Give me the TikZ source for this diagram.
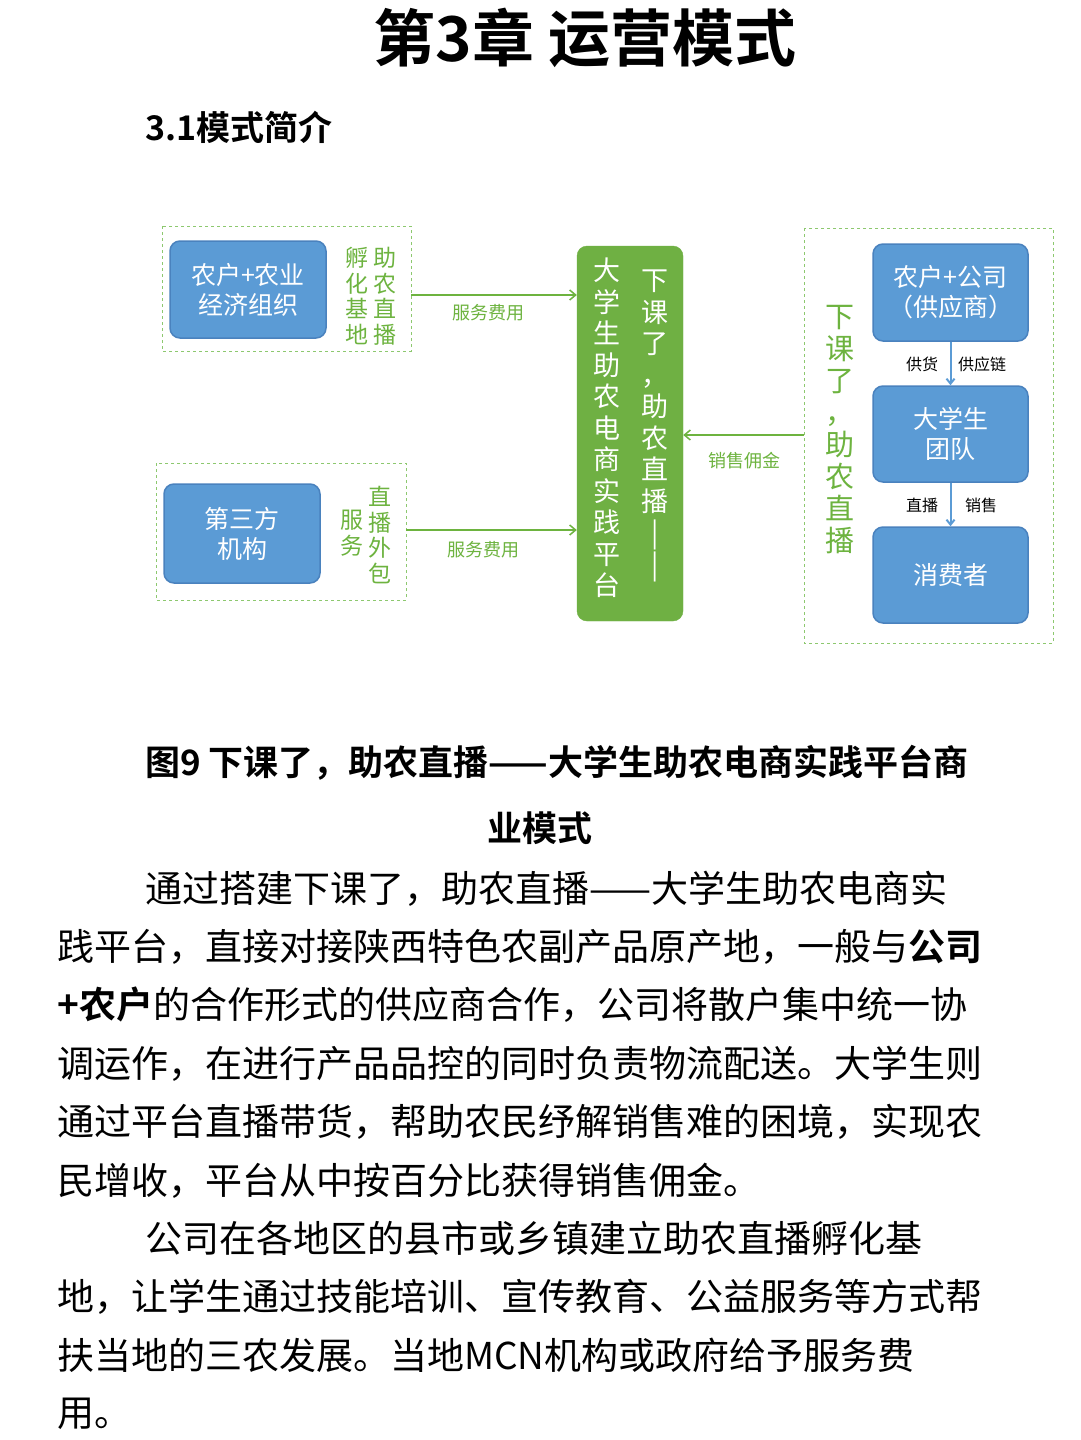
\documentclass[tikz,border=0pt]{standalone}
\usepackage{fontspec}
\setmainfont{Noto Sans CJK SC}
\newfontfamily\cjkb{Noto Sans CJK SC Bold}
\usetikzlibrary{arrows.meta}
\definecolor{bfill}{HTML}{5B9BD5}
\definecolor{bdraw}{HTML}{4A82BE}
\definecolor{gfill}{HTML}{6FB043}
\definecolor{gtext}{HTML}{6DB33F}
\definecolor{gdash}{HTML}{8DC86F}
\tikzset{x=1pt,y=-1pt,
 bluebox/.style={draw=bdraw,line width=1.5pt,fill=bfill,rounded corners=10pt,text=white,font=\fontsize{25}{30}\selectfont,align=center},
 dbox/.style={draw=gdash,dashed,line width=1pt},
 gcol/.style={text=gtext,font=\fontsize{23}{25.5}\selectfont,align=center,anchor=north,inner sep=0pt},
 garrow/.style={draw=gtext,line width=1.5pt,-{Straight Barb[length=6pt,width=10pt]}},
 barrow/.style={draw=bfill,line width=2pt,-{Straight Barb[length=5pt,width=8pt]}},
 glab/.style={text=gtext,font=\fontsize{18}{20}\selectfont},
 klab/.style={text=black,font=\fontsize{16}{18}\selectfont},
 body/.style={anchor=base west,inner sep=0pt,font=\fontsize{37}{40}\selectfont}}
\begin{document}
\begin{tikzpicture}
\useasboundingbox[fill=white] (0,0) rectangle (1080,1440);
\node[font=\cjkb\fontsize{62}{70}\selectfont] (title) at (585,38) {第3章 运营模式};
\node[anchor=west,font=\cjkb\fontsize{34}{40}\selectfont] (sec) at (142,127) {3.1模式简介};
% left top
\draw[dbox] (162,226) rectangle (411,351);
\node[bluebox,minimum width=156pt,minimum height=97pt] (a) at (248,289.5) {农户+农业\\经济组织};
\node[gcol] (a1) at (357,247) {孵\\化\\基\\地};
\node[gcol] (a2) at (385,247) {助\\农\\直\\播};
% left bottom
\draw[dbox] (156,463) rectangle (406,600);
\node[bluebox,minimum width=156pt,minimum height=99pt] (b) at (242,533.5) {第三方\\机构};
\node[gcol] (b1) at (352,510) {服\\务};
\node[gcol] (b2) at (380,486) {直\\播\\外\\包};
% center
\node[fill=gfill,draw=gfill,rounded corners=10pt,minimum width=106pt,minimum height=375pt] (c) at (630,433.5) {};
\node[anchor=north,inner sep=0pt,text=white,font=\fontsize{27}{31.5}\selectfont,align=center] (c1) at (607,258) {大\\学\\生\\助\\农\\电\\商\\实\\践\\平\\台};
\node[anchor=north,inner sep=0pt,text=white,font=\fontsize{27}{31.5}\selectfont,align=center] (c2) at (655,270) {下\\课\\了\\，\\助\\农\\直\\播\\|\\|};
% right
\draw[dbox] (804,228) rectangle (1053,643);
\node[anchor=north,inner sep=0pt,text=gtext,font=\fontsize{29}{32}\selectfont,align=center] (r1) at (840,305) {下\\课\\了\\，\\助\\农\\直\\播};
\node[bluebox,minimum width=155pt,minimum height=97pt] (d) at (950.5,292.5) {农户+公司\\（供应商）};
\node[bluebox,minimum width=155pt,minimum height=96pt] (e) at (950.5,434) {大学生\\团队};
\node[bluebox,minimum width=155pt,minimum height=96pt] (f) at (950.5,575) {消费者};
\draw[barrow] (d) -- (e);
\draw[barrow] (e) -- (f);
\node[klab] (l1) at (922,364) {供货};
\node[klab] (l2) at (982,364) {供应链};
\node[klab] (l3) at (922,505) {直播};
\node[klab] (l4) at (981,505) {销售};
% arrows
\coordinate (pa) at (411,295); \coordinate (pb) at (406,530); \coordinate (pr) at (804,435);
\draw[garrow] (pa) -- (c.west |- pa);
\draw[garrow] (pb) -- (c.west |- pb);
\draw[garrow] (pr) -- (c.east |- pr);
\node[glab] (s1) at (488,313) {服务费用};
\node[glab] (s2) at (483,550) {服务费用};
\node[glab] (s3) at (744,461) {销售佣金};
% caption
\node[anchor=base west,inner sep=0pt,font=\cjkb\fontsize{35}{40}\selectfont] (cap1) at (145,775) {图9 下课了，助农直播——大学生助农电商实践平台商};
\node[anchor=base,inner sep=0pt,font=\cjkb\fontsize{35}{40}\selectfont] (cap2) at (540,841) {业模式};
% body
\node[body] (t1) at (145,902) {通过搭建下课了，助农直播——大学生助农电商实};
\node[body] (t2) at (57,960) {践平台，直接对接陕西特色农副产品原产地，一般与{\cjkb 公司}};
\node[body] (t3) at (57,1018) {{\cjkb +农户}的合作形式的供应商合作，公司将散户集中统一协};
\node[body] (t4) at (57,1077) {调运作，在进行产品品控的同时负责物流配送。大学生则};
\node[body] (t5) at (57,1135) {通过平台直播带货，帮助农民纾解销售难的困境，实现农};
\node[body] (t6) at (57,1194) {民增收，平台从中按百分比获得销售佣金。};
\node[body] (t7) at (145,1252) {公司在各地区的县市或乡镇建立助农直播孵化基};
\node[body] (t8) at (57,1310) {地，让学生通过技能培训、宣传教育、公益服务等方式帮};
\node[body] (t9) at (57,1369) {扶当地的三农发展。当地MCN机构或政府给予服务费};
\node[body] (t10) at (57,1426) {用。};
\end{tikzpicture}
\end{document}
